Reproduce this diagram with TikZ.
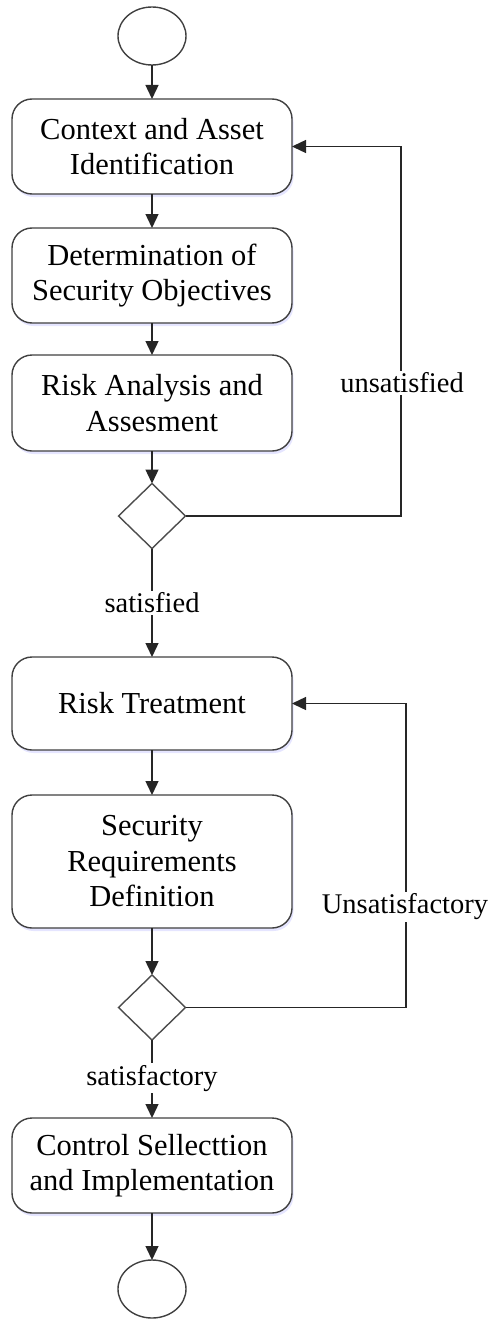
\documentclass[tikz,border=0pt]{standalone}
\usepackage{fontspec}
\setmainfont{Liberation Serif}
\usetikzlibrary{arrows.meta,shapes.geometric,shadows}
\begin{document}
\begin{tikzpicture}[x=1pt,y=-1pt,
  every node/.style={inner sep=0pt, outer sep=0pt},
  actbox/.style={draw=black!75, line width=1.4pt, fill=white, rounded corners=20pt,
     minimum width=280pt, align=center, font=\fontsize{30.5}{35.5}\selectfont,
     drop shadow={shadow xshift=1.5pt, shadow yshift=-3pt, fill=blue!40!white, opacity=0.25}},
  term/.style={draw=black!75, line width=1.4pt, ellipse, minimum width=68pt, minimum height=58pt},
  decision/.style={draw=black!70, line width=1.4pt, diamond, minimum width=67pt, minimum height=65pt, fill=white},
  flow/.style={draw=black!85, line width=1.4pt, -{Triangle[length=14pt,width=13pt]}},
  lbl/.style={fill=white, font=\fontsize{28.5}{32}\selectfont, inner sep=2pt}]
\useasboundingbox (0,0) rectangle (490,1319);

\node[term] (start) at (152,36) {};
\node[actbox, minimum height=95pt] (b1) at (152,146.5) {Context and Asset\\Identification};
\node[actbox, minimum height=95pt] (b2) at (152,275.5) {Determination of\\Security Objectives};
\node[actbox, minimum height=96pt] (b3) at (152,403) {Risk Analysis and\\Assesment};
\node[decision] (d1) at (152,516) {};
\node[actbox, minimum height=93pt] (b4) at (152,703.5) {Risk Treatment};
\node[actbox, minimum height=133pt] (b5) at (152,861.5) {Security\\Requirements\\Definition};
\node[decision] (d2) at (152,1007.5) {};
\node[actbox, minimum height=95pt] (b6) at (152,1165.5) {Control Sellecttion\\and Implementation};
\node[term] (end) at (152,1289) {};

\coordinate (c1a) at (401,516);
\coordinate (c1b) at (401,146.5);
\coordinate (c2a) at (406,1007.5);
\coordinate (c2b) at (406,703.5);

\draw[flow] (start) -- (b1);
\draw[flow] (b1) -- (b2);
\draw[flow] (b2) -- (b3);
\draw[flow] (b3) -- (d1);
\draw[flow] (d1) -- node[lbl, pos=0.5] (l1) {satisfied} (b4);
\draw[flow] (b4) -- (b5);
\draw[flow] (b5) -- (d2);
\draw[flow] (d2) -- node[lbl, pos=0.49] (l3) {satisfactory} (b6);
\draw[flow] (b6) -- (end);

\draw[flow] (d1.east) -- (c1a) -- (c1b) -- (b1.east);
\draw[flow] (d2.east) -- (c2a) -- (c2b) -- (b4.east);
\node[lbl] (l2) at (402,383) {unsatisfied};
\node[lbl] (l4) at (405,907) {Unsatisfactory};
\end{tikzpicture}
\end{document}
